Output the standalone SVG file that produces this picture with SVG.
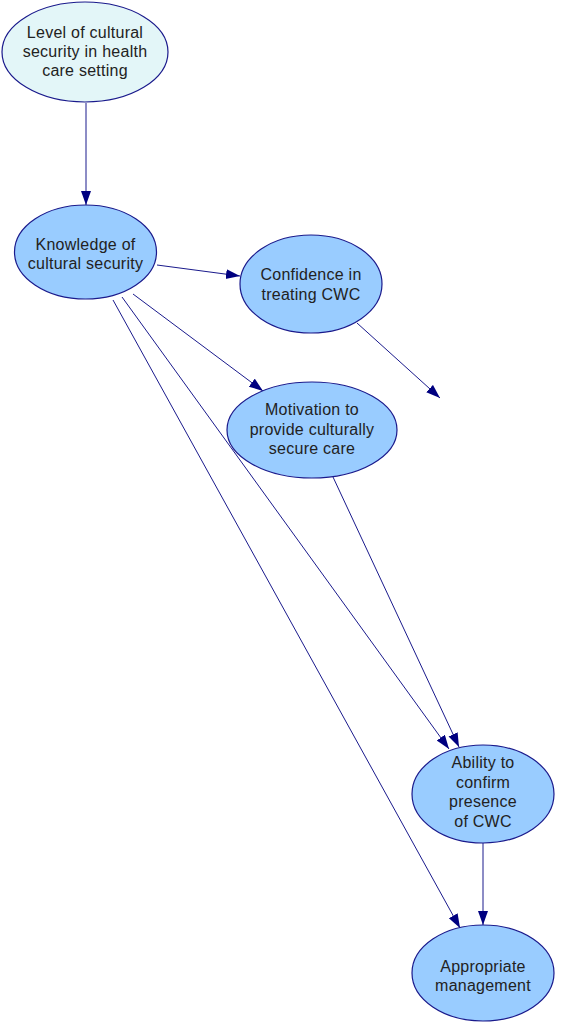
<svg xmlns="http://www.w3.org/2000/svg" width="564" height="1023" viewBox="0 0 564 1023">
  <style>
    .node ellipse { fill: #99ccff; stroke: #1a1a8c; stroke-width: 1.2; }
    .node.root ellipse { fill: #e3f6f8; }
    .node text { font-family: "Liberation Sans", Arial, sans-serif; font-size: 16px; letter-spacing: 0.25px; fill: #222; text-anchor: middle; }
    .edges line { stroke: #1a1a8c; stroke-width: 1; marker-end: url(#arrow); }
  </style>
  <defs>
    <marker id="arrow" markerUnits="userSpaceOnUse" markerWidth="16" markerHeight="12" refX="14" refY="5" orient="auto">
      <path d="M0,0 L14,5 L0,10 Z" fill="#000080"/>
    </marker>
  </defs>

  <g class="edges">
    <line x1="86" y1="103" x2="86" y2="205"/>
    <line x1="157" y1="265" x2="240" y2="276"/>
    <line x1="357" y1="323" x2="440" y2="398"/>
    <line x1="133" y1="294" x2="263" y2="391"/>
    <line x1="333" y1="477" x2="459" y2="747"/>
    <line x1="122" y1="297" x2="449" y2="749"/>
    <line x1="113" y1="300" x2="460" y2="928"/>
    <line x1="483" y1="843" x2="483" y2="925"/>
  </g>

  <g id="node-level" class="node root">
    <ellipse cx="85" cy="52" rx="83" ry="50"/>
    <text x="85" y="38">Level of cultural</text>
    <text x="85" y="57">security in health</text>
    <text x="85" y="76">care setting</text>
  </g>

  <g id="node-knowledge" class="node">
    <ellipse cx="85.5" cy="252" rx="71" ry="47"/>
    <text x="85.5" y="250">Knowledge of</text>
    <text x="85.5" y="269">cultural security</text>
  </g>

  <g id="node-confidence" class="node">
    <ellipse cx="311" cy="284" rx="71" ry="49"/>
    <text x="311" y="280">Confidence in</text>
    <text x="311" y="300">treating CWC</text>
  </g>

  <g id="node-motivation" class="node">
    <ellipse cx="312" cy="430" rx="85" ry="48"/>
    <text x="312" y="415">Motivation to</text>
    <text x="312" y="435">provide culturally</text>
    <text x="312" y="454">secure care</text>
  </g>

  <g id="node-ability" class="node">
    <ellipse cx="483" cy="794" rx="71" ry="49"/>
    <text x="483" y="768">Ability to</text>
    <text x="483" y="788">confirm</text>
    <text x="483" y="807">presence</text>
    <text x="483" y="827">of CWC</text>
  </g>

  <g id="node-management" class="node">
    <ellipse cx="483" cy="973" rx="71" ry="48"/>
    <text x="483" y="972">Appropriate</text>
    <text x="483" y="991">management</text>
  </g>
</svg>
